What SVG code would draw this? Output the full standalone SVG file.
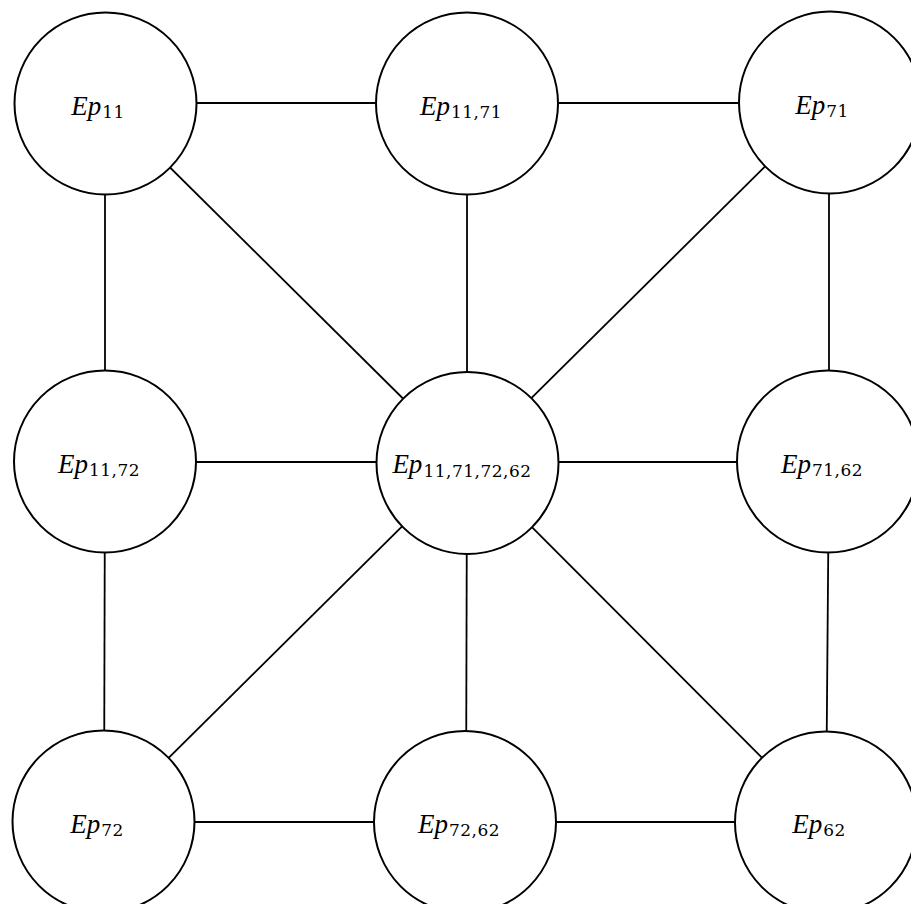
<svg xmlns="http://www.w3.org/2000/svg" width="911" height="904" viewBox="0 0 911 904">
  <style>
    .edge { stroke: #000; stroke-width: 1.8; fill: none; }
    .node circle { fill: #fff; stroke: #000; stroke-width: 2; }
    .lbl { font-family: "Liberation Serif", "DejaVu Serif", serif; font-size: 27px; text-anchor: middle; fill: #000; }
    .lbl .m { font-style: italic; }
    .lbl .s { font-family: "DejaVu Serif", "Liberation Serif", serif; font-style: normal; font-size: 17px; letter-spacing: 0.5px; }
  </style>
  <rect width="911" height="904" fill="#fff"/>

  <!-- connectors, drawn centre to centre; the node discs cover the inner parts -->
  <g id="connectors">
    <line class="edge" x1="105" y1="103" x2="467" y2="103"/>
    <line class="edge" x1="467" y1="103" x2="829" y2="103"/>
    <line class="edge" x1="105" y1="462" x2="467" y2="462"/>
    <line class="edge" x1="467" y1="462" x2="829" y2="462"/>
    <line class="edge" x1="104" y1="822" x2="466" y2="822"/>
    <line class="edge" x1="466" y1="822" x2="826" y2="822"/>
    <line class="edge" x1="105" y1="103" x2="105" y2="462"/>
    <line class="edge" x1="105" y1="462" x2="104" y2="822"/>
    <line class="edge" x1="467" y1="103" x2="467" y2="462"/>
    <line class="edge" x1="467" y1="462" x2="466" y2="822"/>
    <line class="edge" x1="829" y1="103" x2="829" y2="462"/>
    <line class="edge" x1="829" y1="462" x2="826" y2="822"/>
    <line class="edge" x1="105" y1="103" x2="467" y2="462"/>
    <line class="edge" x1="829" y1="103" x2="467" y2="462"/>
    <line class="edge" x1="104" y1="822" x2="467" y2="462"/>
    <line class="edge" x1="826" y1="822" x2="467" y2="462"/>
  </g>

  <g id="n_ep11" class="node">
    <circle cx="105.5" cy="103.5" r="91"/>
    <text class="lbl" x="98" y="115"><tspan class="m">Ep</tspan><tspan class="s" dx="1" dy="3">11</tspan></text>
  </g>
  <g id="n_ep11_71" class="node">
    <circle cx="467" cy="103.5" r="91"/>
    <text class="lbl" x="461" y="115"><tspan class="m">Ep</tspan><tspan class="s" dx="1" dy="3">11,71</tspan></text>
  </g>
  <g id="n_ep71" class="node">
    <circle cx="830" cy="102.5" r="91"/>
    <text class="lbl" x="822" y="114"><tspan class="m">Ep</tspan><tspan class="s" dx="1" dy="3">71</tspan></text>
  </g>
  <g id="n_ep11_72" class="node">
    <circle cx="105" cy="461.5" r="91"/>
    <text class="lbl" x="99" y="473"><tspan class="m">Ep</tspan><tspan class="s" dx="1" dy="3">11,72</tspan></text>
  </g>
  <g id="n_ep11_71_72_62" class="node">
    <circle cx="467.5" cy="463" r="91"/>
    <text class="lbl" x="462" y="473"><tspan class="m">Ep</tspan><tspan class="s" dx="1" dy="3.5">11,71,72,62</tspan></text>
  </g>
  <g id="n_ep71_62" class="node">
    <circle cx="828" cy="461.5" r="91"/>
    <text class="lbl" x="822" y="473"><tspan class="m">Ep</tspan><tspan class="s" dx="1" dy="3">71,62</tspan></text>
  </g>
  <g id="n_ep72" class="node">
    <circle cx="103.5" cy="821.5" r="91"/>
    <text class="lbl" x="97" y="833"><tspan class="m">Ep</tspan><tspan class="s" dx="1" dy="3">72</tspan></text>
  </g>
  <g id="n_ep72_62" class="node">
    <circle cx="465" cy="822" r="91"/>
    <text class="lbl" x="459" y="833"><tspan class="m">Ep</tspan><tspan class="s" dx="1" dy="3">72,62</tspan></text>
  </g>
  <g id="n_ep62" class="node">
    <circle cx="826" cy="822.5" r="91"/>
    <text class="lbl" x="819" y="833"><tspan class="m">Ep</tspan><tspan class="s" dx="1" dy="3">62</tspan></text>
  </g>
</svg>
